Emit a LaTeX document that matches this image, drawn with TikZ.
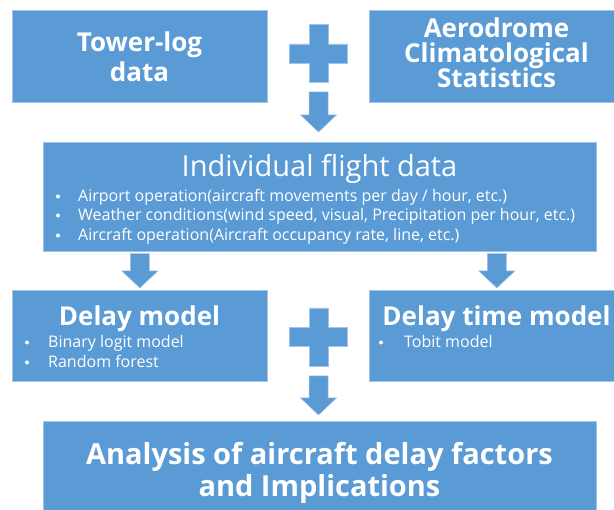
\documentclass[tikz,border=0pt]{standalone}
\usepackage{fontspec}
\setmainfont{Open Sans}
\usetikzlibrary{calc,positioning}
\definecolor{BoxBlue}{HTML}{5B9BD5}
\definecolor{BoxEdge}{HTML}{A3C4E8}

\tikzset{
  blockbox/.style={fill=BoxBlue,draw=BoxEdge,line width=0.7pt,inner sep=0pt,anchor=north west},
  blockshape/.style={fill=BoxBlue,draw=BoxEdge,line width=0.5pt},
  headtxt/.style={text=white,font=\bfseries\fontsize{26}{28}\selectfont,anchor=base,inner sep=0pt},
  titletxt/.style={text=white,font=\fontsize{29}{31}\selectfont,anchor=base,inner sep=0pt},
  itemtxt/.style={text=white,font=\fontsize{16}{19}\selectfont,anchor=base west,inner sep=0pt},
  bulletdot/.style={fill=white}
}

% plus sign around a centre point
\newcommand{\plusmark}[1]{%
  \path[blockshape] let \p1=(#1) in
    (\x1-9.5pt,\y1+29pt) -- (\x1+9.5pt,\y1+29pt) -- (\x1+9.5pt,\y1+9.5pt) -- (\x1+29pt,\y1+9.5pt)
    -- (\x1+29pt,\y1-9.5pt) -- (\x1+9.5pt,\y1-9.5pt) -- (\x1+9.5pt,\y1-29pt) -- (\x1-9.5pt,\y1-29pt)
    -- (\x1-9.5pt,\y1-9.5pt) -- (\x1-29pt,\y1-9.5pt) -- (\x1-29pt,\y1+9.5pt) -- (\x1-9.5pt,\y1+9.5pt) -- cycle;}
% block arrow pointing down, from #1 to the tip #2
\newcommand{\blockdown}[2]{%
  \path[blockshape] let \p1=(#1), \p2=(#2) in
    (\x1-9.5pt,\y1) -- (\x1+9.5pt,\y1) -- (\x1+9.5pt,\y2+17pt) -- (\x1+18pt,\y2+17pt)
    -- (\x1,\y2) -- (\x1-18pt,\y2+17pt) -- (\x1-9.5pt,\y2+17pt) -- cycle;}

\begin{document}
\begin{tikzpicture}[x=1pt,y=-1pt]
  \clip (0,0) rectangle (614,510);

  % sources
  \node[blockbox,minimum width=255pt,minimum height=91.7pt] (towerbox) at (12,10) {};
  \node[blockbox,minimum width=255pt,minimum height=91.7pt] (aerobox) at (369,10) {};
  \node[headtxt] (towerA) at (139.5,52) {Tower-log};
  \node[headtxt] (towerB) at (139.5,82) {data};
  \node[headtxt] (aeroA) at (496.5,38) {Aerodrome};
  \node[headtxt] (aeroB) at (496.5,63) {Climatological};
  \node[headtxt] (aeroC) at (496.5,88) {Statistics};
  \coordinate (plustop) at (318.5,53.5);
  \plusmark{plustop}

  % flight data
  \node[blockbox,minimum width=553pt,minimum height=109pt] (flightbox) at (43,142) {};
  \node[titletxt] (flighttitle) at (319.5,177) {Individual flight data};
  \node[itemtxt] (flightA) at (78,202) {Airport operation(aircraft movements per day / hour, etc.)};
  \node[itemtxt] (flightB) at (78,221) {Weather conditions(wind speed, visual, Precipitation per hour, etc.)};
  \node[itemtxt] (flightC) at (78,241) {Aircraft operation(Aircraft occupancy rate, line, etc.)};
  \foreach \y in {202,221,241}
    \fill[bulletdot] (58,\y-5.5) circle (2);
  \coordinate (topfrom) at (318.5,92);
  \coordinate (topto) at (318.5,132);
  \blockdown{topfrom}{topto}

  % models
  \node[blockbox,minimum width=255pt,minimum height=91.5pt] (delaybox) at (12,290) {};
  \node[blockbox,minimum width=255pt,minimum height=91.5pt] (timebox) at (369,290) {};
  \node[headtxt] (delaytitle) at (139.5,326) {Delay model};
  \node[itemtxt] (delayA) at (48,348) {Binary logit model};
  \node[itemtxt] (delayB) at (48,368) {Random forest};
  \node[headtxt] (timetitle) at (496.5,326) {Delay time model};
  \node[itemtxt] (timeA) at (404,348) {Tobit model};
  \foreach \x/\y in {27/348,27/368,381/348}
    \fill[bulletdot] (\x,\y-5.5) circle (2);
  \coordinate (leftfrom) at ($(flightbox.south -| delaybox.north)+(0,2)$);
  \coordinate (leftto) at ($(delaybox.north)+(0,-2)$);
  \coordinate (rightfrom) at ($(flightbox.south -| timebox.north)+(0,2)$);
  \coordinate (rightto) at ($(timebox.north)+(0,-2)$);
  \blockdown{leftfrom}{leftto}
  \blockdown{rightfrom}{rightto}
  \coordinate (plusbottom) at (318.5,337);
  \plusmark{plusbottom}

  % result
  \node[blockbox,minimum width=553pt,minimum height=109pt] (analysisbox) at (43,421) {};
  \node[headtxt,font=\bfseries\fontsize{29}{32}\selectfont] (analysisA) at (319.5,465) {Analysis of aircraft delay factors};
  \node[headtxt,font=\bfseries\fontsize{29}{32}\selectfont] (analysisB) at (319.5,497) {and Implications};
  \coordinate (bottomfrom) at (318.5,376);
  \coordinate (bottomto) at (318.5,415);
  \blockdown{bottomfrom}{bottomto}
\end{tikzpicture}
\end{document}
